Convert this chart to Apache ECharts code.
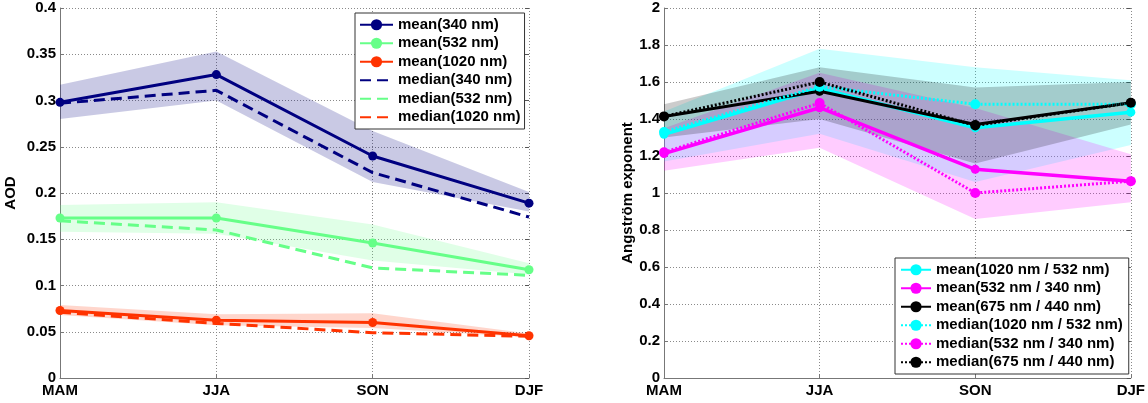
<!DOCTYPE html>
<html>
<head>
<meta charset="utf-8">
<script src="https://cdn.jsdelivr.net/npm/echarts@6/dist/echarts.min.js"></script>
<style>
html,body{margin:0;padding:0;background:#fff;}
#c{width:1148px;height:403px;}
</style>
</head>
<body>
<div id="c"></div>
<script>
// ---- data ----
const seasons = ['MAM', 'JJA', 'SON', 'DJF'];

// AOD (left panel)
const mean340   = [0.298, 0.328, 0.240, 0.189];
const median340 = [0.297, 0.311, 0.222, 0.174];
const low340    = [0.280, 0.300, 0.212, 0.180];
const high340   = [0.317, 0.353, 0.267, 0.201];

const mean532   = [0.173, 0.173, 0.146, 0.117];
const median532 = [0.170, 0.160, 0.119, 0.111];
const low532    = [0.158, 0.156, 0.127, 0.112];
const high532   = [0.187, 0.190, 0.166, 0.124];

const mean1020   = [0.073, 0.0625, 0.060, 0.0457];
const median1020 = [0.071, 0.059, 0.049, 0.045];
const low1020    = [0.068, 0.057, 0.054, 0.044];
const high1020   = [0.079, 0.069, 0.070, 0.048];

// Angstrom exponent (right panel)
const meanC   = [1.317, 1.565, 1.353, 1.437];
const medianC = [1.33, 1.575, 1.48, 1.48];
const lowC    = [1.17, 1.32, 1.06, 1.26];
const highC   = [1.44, 1.78, 1.68, 1.61];

const meanM   = [1.213, 1.461, 1.128, 1.064];
const medianM = [1.22, 1.486, 1.0, 1.064];
const lowM    = [1.12, 1.245, 0.86, 0.95];
const highM   = [1.35, 1.65, 1.46, 1.21];

const meanK   = [1.414, 1.55, 1.37, 1.488];
const medianK = [1.414, 1.60, 1.365, 1.488];
const lowK    = [1.30, 1.40, 1.16, 1.37];
const highK   = [1.48, 1.68, 1.57, 1.60];

// ---- helpers ----
const FONT = "'Liberation Sans', Arial, sans-serif";
const diff = (hi, lo) => hi.map((v, i) => +(v - lo[i]).toFixed(4));

function band(id, lo, hi, color, axisIdx) {
  return [
    { type: 'line', name: '_lo' + id, stack: 's' + id, data: lo, xAxisIndex: axisIdx, yAxisIndex: axisIdx * 2,
      symbol: 'none', lineStyle: { opacity: 0 }, silent: true, z: 1, animation: false },
    { type: 'line', name: '_hi' + id, stack: 's' + id, data: diff(hi, lo), xAxisIndex: axisIdx, yAxisIndex: axisIdx * 2,
      symbol: 'none', lineStyle: { opacity: 0 }, areaStyle: { color: color, opacity: 1 }, silent: true, z: 1, animation: false }
  ];
}
function line(name, data, color, dash, axisIdx, symbol, size, width) {
  return { type: 'line', name: name, data: data, xAxisIndex: axisIdx, yAxisIndex: axisIdx * 2,
    symbol: symbol, symbolSize: size, showSymbol: symbol !== 'none',
    itemStyle: { color: color, borderWidth: 0 },
    lineStyle: { color: color, width: width || 3, type: dash }, z: 3, animation: false };
}

const gridLine = { show: true, lineStyle: { color: '#8a8a8a', width: 1, type: [1, 2] } };
const labelStyle = { color: '#000', fontSize: 15, fontWeight: 'bold', fontFamily: FONT };

function xAx(gi) {
  return { type: 'category', gridIndex: gi, data: seasons, boundaryGap: false,
    axisLine: { show: true, lineStyle: { color: '#777', width: 1 } },
    axisTick: { show: true, inside: true, length: 4, lineStyle: { color: '#777' }, alignWithLabel: true },
    axisLabel: Object.assign({ margin: 5 }, labelStyle),
    splitLine: gridLine };
}
function yAx(gi, max, interval, name, gap) {
  return { type: 'value', gridIndex: gi, min: 0, max: max, interval: interval,
    name: name, nameLocation: 'middle', nameGap: gap,
    nameTextStyle: { color: '#000', fontSize: 15, fontWeight: 'bold', fontFamily: FONT },
    axisLine: { show: true, lineStyle: { color: '#777', width: 1 } },
    axisTick: { show: true, inside: true, length: 4, lineStyle: { color: '#777' } },
    axisLabel: Object.assign({ margin: 4 }, labelStyle),
    splitLine: gridLine };
}
function yAxR(gi, max, interval) {
  return { type: 'value', gridIndex: gi, position: 'right', min: 0, max: max, interval: interval,
    axisLine: { show: false }, axisLabel: { show: false }, splitLine: { show: false },
    axisTick: { show: true, inside: true, length: 4, lineStyle: { color: '#555' } } };
}

const legendBase = {
  orient: 'vertical', backgroundColor: '#fff', borderColor: '#333', borderWidth: 1,
  borderRadius: 0, itemGap: 3, itemHeight: 14, selectedMode: false,
  textStyle: { color: '#000', fontSize: 15, fontWeight: 'bold', fontFamily: FONT, lineHeight: 15.5 }
};
const noSym = name => ({ name: name, itemStyle: { color: 'rgba(0,0,0,0)', borderColor: 'rgba(0,0,0,0)', borderWidth: 0 } });

const option = {
  animation: false,
  backgroundColor: '#fff',
  grid: [
    { left: 60, right: 619, top: 8, bottom: 25 },
    { left: 664, right: 15, top: 8, bottom: 25 }
  ],
  xAxis: [xAx(0), xAx(1)],
  yAxis: [yAx(0, 0.4, 0.05, 'AOD', 42), yAxR(0, 0.4, 0.05),
          yAx(1, 2, 0.2, 'Angström exponent', 28), yAxR(1, 2, 0.2)],
  legend: [
    Object.assign({}, legendBase, { left: 355, top: 13, itemWidth: 33, padding: [4, 4, 4, 4],
      data: ['mean(340 nm)', 'mean(532 nm)', 'mean(1020 nm)',
             noSym('median(340 nm)'), noSym('median(532 nm)'), noSym('median(1020 nm)')] }),
    Object.assign({}, legendBase, { left: 895, top: 258, itemWidth: 30, padding: [4, 6, 4, 5],
      data: ['mean(1020 nm / 532 nm)', 'mean(532 nm / 340 nm)', 'mean(675 nm / 440 nm)',
             'median(1020 nm / 532 nm)', 'median(532 nm / 340 nm)', 'median(675 nm / 440 nm)'] })
  ],
  series: [].concat(
    band('340', low340, high340, 'rgba(0,0,128,0.21)', 0),
    band('532', low532, high532, 'rgba(102,255,136,0.2)', 0),
    band('1020', low1020, high1020, 'rgba(255,51,0,0.2)', 0),
    band('C', lowC, highC, 'rgba(0,255,255,0.2)', 1),
    band('M', lowM, highM, 'rgba(255,0,255,0.2)', 1),
    band('K', lowK, highK, 'rgba(0,0,0,0.2)', 1),
    [
      line('median(340 nm)', median340, '#000080', [11, 6], 0, 'none', 0),
      line('median(532 nm)', median532, '#66ff88', [11, 6], 0, 'none', 0),
      line('median(1020 nm)', median1020, '#ff3300', [11, 6], 0, 'none', 0),
      line('mean(340 nm)', mean340, '#000080', 'solid', 0, 'circle', 9),
      line('mean(532 nm)', mean532, '#66ff88', 'solid', 0, 'circle', 9),
      line('mean(1020 nm)', mean1020, '#ff3300', 'solid', 0, 'circle', 9),

      line('mean(1020 nm / 532 nm)', meanC, '#00ffff', 'solid', 1, 'circle', 9, 3.5),
      line('mean(532 nm / 340 nm)', meanM, '#ff00ff', 'solid', 1, 'circle', 9, 3.5),
      line('mean(675 nm / 440 nm)', meanK, '#000000', 'solid', 1, 'circle', 9, 3),
      line('median(1020 nm / 532 nm)', medianC, '#00ffff', [2, 2], 1, 'circle', 10, 3),
      line('median(532 nm / 340 nm)', medianM, '#ff00ff', [2, 2], 1, 'circle', 10, 3),
      line('median(675 nm / 440 nm)', medianK, '#000000', [2, 2], 1, 'circle', 10, 3)
    ]
  )
};

const chart = echarts.init(document.getElementById('c'), null, { renderer: 'canvas' });
chart.setOption(option);
</script>
</body>
</html>
